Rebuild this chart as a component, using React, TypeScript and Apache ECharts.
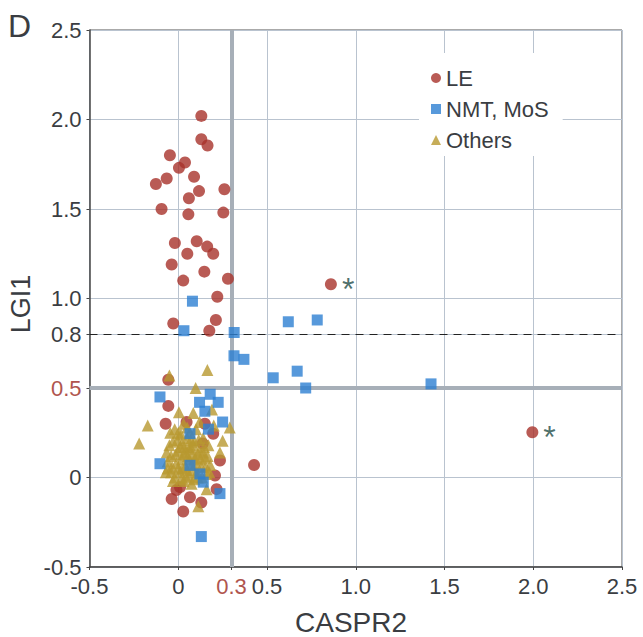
import React, { useEffect, useRef } from "react";
import * as echarts from "echarts";

const FONT = '"Liberation Sans", Arial, Helvetica, sans-serif';
const TEXT = "#3a3d42";
const RED_TEXT = "#b0554e";

const xTicks = [-0.5, 0, 0.3, 0.5, 1, 1.5, 2, 2.5];
const yTicks = [-0.5, 0, 0.5, 0.8, 1, 1.5, 2, 2.5];
const cutX = 0.3;
const cutY = 0.5;
const dashY = 0.8;

const leData: number[][] = [
  [0.13, 2.02], [0.13, 1.89], [0.165, 1.855], [-0.047, 1.8], [0.038, 1.76],
  [0.004, 1.73], [0.089, 1.68], [-0.065, 1.67], [-0.126, 1.64], [0.26, 1.61],
  [0.117, 1.6], [0.06, 1.56], [-0.094, 1.5], [0.057, 1.47], [0.254, 1.48],
  [-0.019, 1.31], [0.104, 1.32], [0.163, 1.29], [0.197, 1.25], [0.051, 1.25],
  [-0.037, 1.19], [0.147, 1.15], [0.028, 1.1], [0.28, 1.11], [0.22, 1.01],
  [0.212, 0.88], [-0.028, 0.86], [0.175, 0.82],
  [-0.056, 0.546], [-0.056, 0.4], [-0.071, 0.3], [0.047, 0.31], [0.15, 0.3],
  [0.197, 0.244], [0.138, 0.19], [0.427, 0.07], [0.235, 0.095], [0.207, 0.011],
  [0.01, -0.054], [-0.01, -0.07], [-0.037, -0.12], [0.066, -0.11], [0.13, -0.14],
  [0.028, -0.19], [0.216, -0.065],
];
const leStarred: number[][] = [
  [0.86, 1.08],
  [1.995, 0.253],
];

const nmtData: number[][] = [
  [0.08, 0.985], [0.032, 0.82], [0.315, 0.81], [0.62, 0.87], [0.783, 0.88],
  [0.314, 0.68], [0.37, 0.66], [0.535, 0.557], [0.67, 0.594], [0.718, 0.5],
  [1.424, 0.523], [-0.103, 0.45], [0.12, 0.42], [0.18, 0.465], [0.225, 0.42],
  [0.15, 0.37], [0.25, 0.31], [0.17, 0.27], [0.066, 0.245], [-0.103, 0.077],
  [0.066, 0.068], [0.122, 0.02], [0.141, -0.026], [0.235, -0.09], [0.13, -0.33],
];

const othersData: number[][] = [
  [-0.05, 0.57], [0.164, 0.6], [0.098, 0.5], [0.004, 0.365], [0.085, 0.36],
  [0.19, 0.38], [-0.172, 0.29], [-0.22, 0.19], [0.29, 0.28], [0.25, 0.205],
  [0.235, 0.14], [0.075, -0.035], [0.16, -0.065], [0.113, -0.16],
  [-0.06, 0.05], [-0.04, 0.12], [-0.03, 0.2], [-0.02, 0.0], [-0.01, 0.08],
  [0.0, 0.15], [0.0, 0.25], [0.01, 0.03], [0.02, 0.1], [0.02, 0.19],
  [0.03, -0.02], [0.04, 0.06], [0.04, 0.14], [0.05, 0.22], [0.05, 0.28],
  [0.06, 0.01], [0.06, 0.1], [0.07, 0.17], [0.08, 0.04], [0.08, 0.13],
  [0.09, 0.2], [0.1, 0.08], [0.1, 0.27], [0.11, 0.0], [0.12, 0.15],
  [0.13, 0.06], [0.14, 0.22], [0.15, 0.11], [0.16, 0.02], [0.17, 0.18],
  [-0.05, 0.18], [-0.06, 0.09], [0.03, 0.3], [0.09, -0.01], [0.12, 0.31],
  [0.18, 0.07], [0.0, 0.05], [0.06, 0.16], [-0.02, 0.27], [0.14, 0.14],
  [0.2, 0.29], [-0.03, -0.02],
  [-0.07, 0.03], [-0.065, 0.14], [-0.045, 0.25], [-0.035, 0.06], [-0.015, 0.13],
  [-0.005, 0.21], [0.015, -0.01], [0.015, 0.24], [0.025, 0.05], [0.035, 0.17],
  [0.045, 0.0], [0.055, 0.12], [0.065, 0.25], [0.075, 0.07], [0.085, 0.18],
  [0.095, 0.11], [0.105, 0.03], [0.115, 0.21], [0.125, 0.1], [0.135, 0.0],
  [0.145, 0.17], [0.155, 0.06], [0.165, 0.12], [0.175, 0.03], [0.03, 0.13],
  [0.01, 0.17], [-0.04, 0.03], [0.07, 0.21], [0.11, 0.13], [0.05, 0.04],
];

const seriesNames = ["LE", "NMT, MoS", "Others"];
const colors = { le: "#a8322a", nmt: "#2d80d2", others: "#b8982f" };

const fmt = (v: number) => (v === 0 ? "0" : v.toFixed(1));

export default function App() {
  const ref = useRef<HTMLDivElement>(null);
  useEffect(() => {
    if (!ref.current) return;
    const chart = echarts.init(ref.current, undefined, { renderer: "svg" });
    const starLabel = {
      show: true,
      formatter: "*",
      position: "right",
      distance: 5,
      offset: [0, 5],
      color: "#1d4a45",
      fontSize: 32,
      fontFamily: FONT,
    };
    chart.setOption({
      animation: false,
      backgroundColor: "#fff",
      textStyle: { fontFamily: FONT },
      grid: {
        left: 89.5,
        top: 30,
        right: 21,
        bottom: 70,
        show: true,
        borderColor: "#555",
        borderWidth: 1,
        containLabel: false,
        outerBoundsMode: "none",
      },
      xAxis: {
        type: "value",
        min: -0.5,
        max: 2.5,
        interval: 0.5,
        axisLine: { show: true, onZero: false, lineStyle: { color: "#444", width: 1.5 } },
        axisTick: { show: true, length: 3, customValues: xTicks, lineStyle: { color: "#444" } },
        splitLine: { show: true, lineStyle: { color: "#b9c3cf", width: 1 } },
        axisLabel: {
          customValues: xTicks,
          fontSize: 22,
          color: TEXT,
          fontFamily: FONT,
          margin: 8,
          formatter: (v: number) =>
            Math.abs(v - cutX) < 1e-9 ? `{r|${fmt(v)}}` : fmt(v),
          rich: { r: { color: RED_TEXT, fontSize: 22, fontFamily: FONT } },
        },
      },
      yAxis: {
        type: "value",
        min: -0.5,
        max: 2.5,
        interval: 0.5,
        axisLine: { show: true, onZero: false, lineStyle: { color: "#444", width: 1.5 } },
        axisTick: { show: true, length: 3, customValues: yTicks, lineStyle: { color: "#444" } },
        splitLine: { show: true, lineStyle: { color: "#b9c3cf", width: 1 } },
        axisLabel: {
          customValues: yTicks,
          fontSize: 22,
          color: TEXT,
          fontFamily: FONT,
          margin: 8,
          formatter: (v: number) =>
            Math.abs(v - cutY) < 1e-9 ? `{r|${fmt(v)}}` : fmt(v),
          rich: { r: { color: RED_TEXT, fontSize: 22, fontFamily: FONT } },
        },
      },
      legend: {
        orient: "vertical",
        left: 419,
        top: 53,
        padding: [14, 14, 5, 12],
        backgroundColor: "#fff",
        itemWidth: 10,
        itemHeight: 10,
        itemGap: 9,
        textStyle: { fontSize: 22, color: TEXT, fontFamily: FONT },
        data: [
          { name: seriesNames[0], icon: "circle" },
          { name: seriesNames[1], icon: "rect" },
          { name: seriesNames[2], icon: "triangle" },
        ],
      },
      graphic: [
        {
          type: "text",
          left: 8,
          top: 10,
          style: { text: "D", fontSize: 32, fill: TEXT, fontFamily: FONT },
        },
        {
          type: "text",
          x: 21,
          y: 304,
          rotation: Math.PI / 2,
          style: {
            text: "LGI1",
            fontSize: 27,
            fill: TEXT,
            fontFamily: FONT,
            align: "center",
            verticalAlign: "middle",
          },
        },
        {
          type: "text",
          x: 351,
          y: 622,
          style: {
            text: "CASPR2",
            fontSize: 28,
            fill: TEXT,
            fontFamily: FONT,
            align: "center",
            verticalAlign: "middle",
          },
        },
      ],
      series: [
        {
          name: seriesNames[0],
          type: "scatter",
          symbol: "circle",
          symbolSize: 12,
          itemStyle: { color: colors.le },
          z: 2,
          data: [
            ...leData,
            ...leStarred.map((p) => ({ value: p, label: starLabel })),
          ],
          markLine: {
            silent: true,
            symbol: "none",
            z: 1,
            label: { show: false },
            data: [
              { xAxis: cutX, lineStyle: { color: "#a7afb8", width: 4, type: "solid" } },
              { yAxis: cutY, lineStyle: { color: "#a7afb8", width: 4, type: "solid" } },
              { yAxis: dashY, lineStyle: { color: "#222", width: 1.2, type: [8, 6] } },
            ],
          },
        },
        {
          name: seriesNames[2],
          type: "scatter",
          symbol: "triangle",
          symbolSize: 12,
          itemStyle: { color: colors.others },
          z: 3,
          data: othersData,
        },
        {
          name: seriesNames[1],
          type: "scatter",
          symbol: "rect",
          symbolSize: 11,
          itemStyle: { color: colors.nmt },
          z: 4,
          data: nmtData,
        },
      ],
    });
    return () => chart.dispose();
  }, []);
  return (
    <div
      ref={ref}
      style={{ position: "absolute", left: 0, top: 0, width: 643, height: 637 }}
    />
  );
}
